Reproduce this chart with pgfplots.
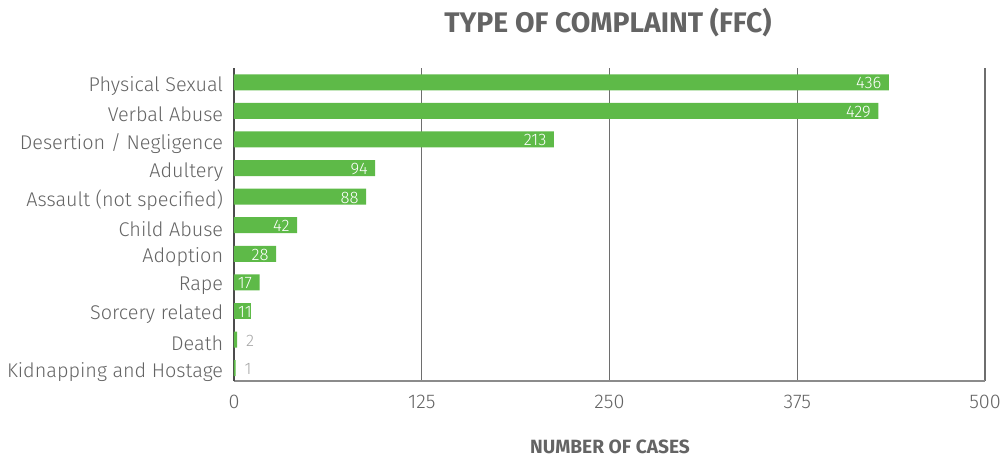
\documentclass[border=0pt]{standalone}
\usepackage{pgfplots}
\pgfplotsset{compat=1.18}
\usepackage{fontspec}
\setmainfont{Fira Sans Light}
\newfontfamily\titlefont{Fira Sans}[FontFace={b}{n}{Fira Sans SemiBold}]
\definecolor{barg}{RGB}{94,186,72}
\definecolor{txtg}{RGB}{100,100,100}
\definecolor{gridg}{RGB}{110,110,110}
\begin{document}
\begin{tikzpicture}[x=1pt,y=1pt]
\useasboundingbox (0,0) rectangle (600,274.2);
\begin{axis}[
  at={(140.4pt,45.6pt)}, anchor=south west,
  scale only axis, width=450.6pt, height=187.8pt,
  xbar, bar width=9.6pt, bar shift=0pt,
  xmin=0, xmax=500, ymin=-0.45, ymax=10.5,
  xtick={0,125,250,375,500},
  ytick={0,...,10},
  yticklabels={Kidnapping and Hostage,Death,Sorcery related,Rape,Adoption,Child Abuse,Assault (not specified),Adultery,Desertion / Negligence,Verbal Abuse,Physical Sexual},
  xmajorgrids, major grid style={gridg, line width=0.7pt},
  axis x line*=bottom, axis y line*=left,
  x axis line style={-, gridg!80, line width=0.8pt},
  y axis line style={-, black!70, line width=0.7pt},
  major tick length=0pt,
  tick label style={font=\fontsize{11.9}{13}\selectfont, text=txtg},
  /pgf/number format/assume math mode=true,
  xticklabel style={yshift=-5pt},
  yticklabel style={xshift=-3pt, yshift=-2.2pt},
  nodes near coords, point meta=explicit symbolic,
]
\addplot[fill=barg, draw=none,
  every node near coord/.append style={anchor=east, xshift=-1pt, yshift=-0.5pt, text=white, font=\fontsize{10}{10}\selectfont}]
  coordinates {(436,10)[436] (429,9)[429] (213,8)[213] (94,7)[94] (88,6)[88] (42,5)[42] (28,4)[28] (17,3)[17]};
\addplot[fill=barg, draw=none,
  every node near coord/.append style={anchor=west, xshift=-11pt, yshift=-0.5pt, text=white, font=\fontsize{10}{10}\selectfont}]
  coordinates {(11,2)[11]};
\addplot[fill=barg, draw=none,
  every node near coord/.append style={anchor=west, xshift=2pt, yshift=-0.5pt, text=black!35, font=\fontsize{10}{10}\selectfont}]
  coordinates {(2,1)[2] (1,0)[1]};
\end{axis}
\node[font=\titlefont\bfseries\fontsize{17}{20}\selectfont, text=txtg] at (364.8,260.4) {TYPE OF COMPLAINT (FFC)};
\node[font=\titlefont\bfseries\fontsize{11.5}{12}\selectfont, text=txtg] at (366,6.3) {NUMBER OF CASES};
\end{tikzpicture}
\end{document}
